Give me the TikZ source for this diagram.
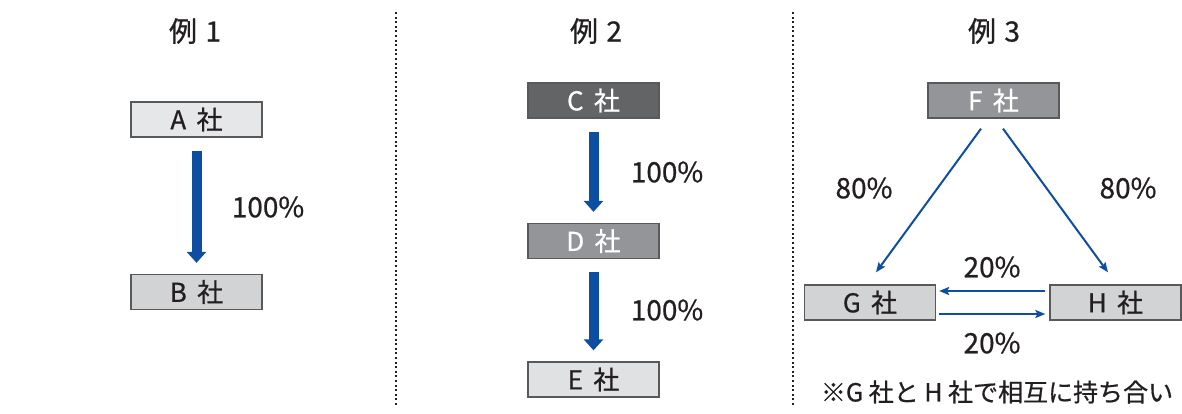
\documentclass[tikz,border=0pt]{standalone}
\usepackage{fontspec}
\setmainfont{Noto Sans CJK JP}[FakeBold=0.7]
\usetikzlibrary{arrows.meta}
\definecolor{txt}{HTML}{231F20}
\definecolor{rim}{HTML}{58595B}
\definecolor{pale}{HTML}{E6E7E8}
\definecolor{mid}{HTML}{D1D3D4}
\definecolor{grey}{HTML}{939598}
\definecolor{dark}{HTML}{636466}
\definecolor{flow}{HTML}{0D4EA2}
\newcommand{\sha}{\hspace{0.4em}社}
\begin{document}
\begin{tikzpicture}[x=1pt,y=-1pt,
	every node/.style={text=txt,font=\fontsize{26}{28}\selectfont},
	firm/.style={draw=rim,line width=1.3pt,minimum width=131pt,minimum height=35pt,inner sep=0pt},
	big/.style={flow,line width=10pt,-{Triangle[width=19pt,length=11pt]},shorten <=13pt,shorten >=11pt},
	thin/.style={flow,line width=2pt,-{Stealth[length=10pt,width=8pt,inset=2pt]}},
	pct/.style={font=\fontsize{28}{32}\selectfont}]
	\useasboundingbox (0,0) rectangle (1182,413);
	% separators
	\draw[txt,line width=2pt,dash pattern=on 2pt off 2.6pt] (396,12) -- (396,405);
	\draw[txt,line width=2pt,dash pattern=on 2pt off 2.6pt] (793,12) -- (793,405);
	% titles
	\node[pct] (t1) at (195,31) {例\hspace{0.3em}1};
	\node[pct] (t2) at (596,31) {例\hspace{0.3em}2};
	\node[pct] (t3) at (994,31) {例\hspace{0.3em}3};
	% example 1
	\node[firm,fill=pale] (a) at (196.5,119.5) {A\sha};
	\node[firm,fill=mid] (b) at (196.5,292) {B\sha};
	\draw[big] (a) -- (b);
	\node[pct] (pab) at (268,207) {100\%};
	% example 2
	\node[firm,fill=dark,text=white] (c) at (593.5,100.5) {C\sha};
	\node[firm,fill=grey,text=white] (d) at (593.5,241) {D\sha};
	\node[firm,fill=pale!70!mid] (e) at (593.5,379.5) {E\sha};
	\draw[big] (c) -- (d);
	\draw[big] (d) -- (e);
	\node[pct] (pcd) at (667,172) {100\%};
	\node[pct] (pde) at (667,310) {100\%};
	% example 3
	\node[firm,fill=grey,text=white] (f) at (993.5,100.5) {F\sha};
	\node[firm,fill=mid] (g) at (870,302.5) {G\sha};
	\node[firm,fill=mid] (h) at (1115.5,302.5) {H\sha};
	\draw[thin] ([xshift=-12.5pt,yshift=-10pt]f.south) -- ([xshift=6pt,yshift=12pt]g.north);
	\draw[thin] ([xshift=9.5pt,yshift=-10pt]f.south) -- ([xshift=-7.5pt,yshift=12pt]h.north);
	\draw[thin] ([xshift=-4pt,yshift=11.5pt]h.west) -- ([xshift=3pt,yshift=11.5pt]g.east);
	\draw[thin] ([xshift=3pt,yshift=-11.5pt]g.east) -- ([xshift=-4pt,yshift=-11.5pt]h.west);
	\node[pct] (pfg) at (864,188) {80\%};
	\node[pct] (pfh) at (1128,188) {80\%};
	\node[pct] (phg) at (992,267) {20\%};
	\node[pct] (pgh) at (992,343) {20\%};
	\node[font=\fontsize{25}{28}\selectfont] (note) at (997,392) {※G 社と H 社で相互に持ち合い};
\end{tikzpicture}
\end{document}
